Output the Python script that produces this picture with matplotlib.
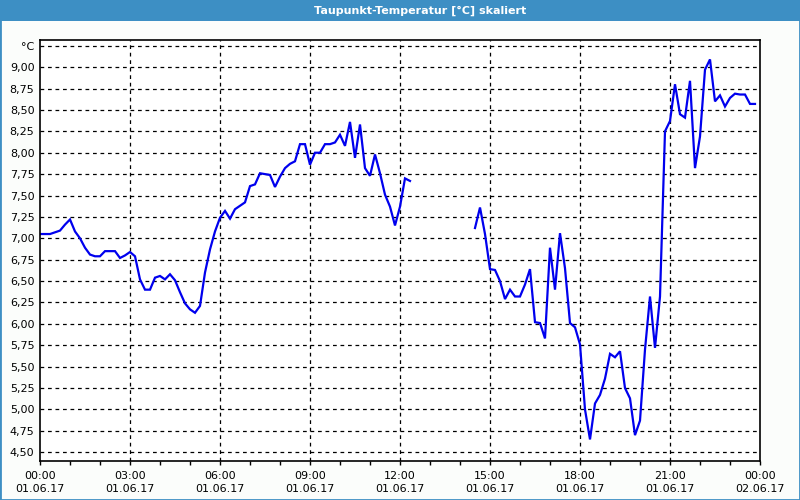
import matplotlib
matplotlib.use("Agg")
import matplotlib.pyplot as plt
from matplotlib.patches import Rectangle
from matplotlib.ticker import FixedLocator, NullFormatter
import numpy as np

# ---- data ----
title = "Taupunkt-Temperatur [°C] skaliert"
unit_label = "°C"

# segment 1: 00:00 .. 12:20 (10-minute readings)
seg1_times = ["00:00","00:10","00:20","00:30","00:40","00:50",
              "01:00","01:10","01:20","01:30","01:40","01:50",
              "02:00","02:10","02:20","02:30","02:40","02:50",
              "03:00","03:10","03:20","03:30","03:40","03:50",
              "04:00","04:10","04:20","04:30","04:40","04:50",
              "05:00","05:10","05:20","05:30","05:40","05:50",
              "06:00","06:10","06:20","06:30","06:40","06:50",
              "07:00","07:10","07:20","07:30","07:40","07:50",
              "08:00","08:10","08:20","08:30","08:40","08:50",
              "09:00","09:10","09:20","09:30","09:40","09:50",
              "10:00","10:10","10:20","10:30","10:40","10:50",
              "11:00","11:10","11:20","11:30","11:40","11:50",
              "12:00","12:10","12:20"]
seg1_values = [7.05, 7.05, 7.05, 7.07, 7.09, 7.16,
               7.22, 7.08, 7.00, 6.89, 6.81, 6.79,
               6.79, 6.85, 6.85, 6.85, 6.77, 6.80,
               6.84, 6.79, 6.52, 6.40, 6.40, 6.54,
               6.56, 6.52, 6.58, 6.51, 6.37, 6.24,
               6.17, 6.13, 6.21, 6.60, 6.87, 7.08,
               7.24, 7.32, 7.23, 7.34, 7.38, 7.42,
               7.61, 7.63, 7.76, 7.75, 7.74, 7.60,
               7.72, 7.82, 7.87, 7.90, 8.10, 8.10,
               7.86, 8.00, 8.00, 8.10, 8.10, 8.12,
               8.21, 8.08, 8.36, 7.94, 8.33, 7.82,
               7.73, 7.98, 7.76, 7.51, 7.37, 7.15,
               7.37, 7.70, 7.67]

# segment 2: 14:30 .. 23:50
seg2_times = ["14:30","14:40","14:50",
              "15:00","15:10","15:20","15:30","15:40","15:50",
              "16:00","16:10","16:20","16:30","16:40","16:50",
              "17:00","17:10","17:20","17:30","17:40","17:50",
              "18:00","18:10","18:20","18:30","18:40","18:50",
              "19:00","19:10","19:20","19:30","19:40","19:50",
              "20:00","20:10","20:20","20:30","20:40","20:50",
              "21:00","21:10","21:20","21:30","21:40","21:50",
              "22:00","22:10","22:20","22:30","22:40","22:50",
              "23:00","23:10","23:20","23:30","23:40","23:50"]
seg2_values = [7.12, 7.36, 7.05,
               6.64, 6.63, 6.50, 6.29, 6.40, 6.32,
               6.32, 6.46, 6.64, 6.02, 6.01, 5.83,
               6.89, 6.40, 7.06, 6.65, 6.01, 5.96,
               5.76, 5.00, 4.65, 5.07, 5.17, 5.36,
               5.65, 5.61, 5.68, 5.25, 5.13, 4.70,
               4.87, 5.70, 6.32, 5.72, 6.32, 8.25,
               8.37, 8.80, 8.45, 8.41, 8.84, 7.82,
               8.19, 8.97, 9.09, 8.60, 8.67, 8.54,
               8.64, 8.69, 8.68, 8.68, 8.57, 8.57]

x_tick_times = ["00:00", "03:00", "06:00", "09:00", "12:00", "15:00", "18:00", "21:00", "00:00"]
x_tick_dates = ["01.06.17"] * 8 + ["02.06.17"]
y_ticks = [4.50, 4.75, 5.00, 5.25, 5.50, 5.75, 6.00, 6.25, 6.50, 6.75,
           7.00, 7.25, 7.50, 7.75, 8.00, 8.25, 8.50, 8.75, 9.00, 9.25]


def to_hours(t):
    h, m = t.split(":")
    return int(h) + int(m) / 60.0


plt.rcParams['font.family'] = ['DejaVu Sans']
fig = plt.figure(figsize=(8, 5), dpi=100)
fig.patch.set_facecolor("#fbfdfb")

# title bar and border
bar_color = "#3d8fc4"
fig.patches.append(Rectangle((0, 1 - 20.5 / 500), 1, 20.5 / 500, transform=fig.transFigure,
                             facecolor=bar_color, edgecolor="none", zorder=0))
fig.patches.append(Rectangle((0, 0), 1, 1, transform=fig.transFigure,
                             facecolor="none", edgecolor=bar_color, linewidth=2, zorder=0))
fig.text(0.525, 1 - 10.5 / 500, title, color="white", fontsize=8, fontweight="bold",
         ha="center", va="center")

ax = fig.add_axes([40 / 800, 1 - 461 / 500, 720 / 800, 421 / 500])
ax.set_facecolor("white")

x1 = [to_hours(t) for t in seg1_times]
x2 = [to_hours(t) for t in seg2_times]
ax.plot(x1, seg1_values, color="#0000ee", linewidth=1.6, solid_joinstyle="miter")
ax.plot(x2, seg2_values, color="#0000ee", linewidth=1.6, solid_joinstyle="miter")

ax.set_xlim(0, 24)
ax.set_ylim(4.398, 9.317)

# y ticks
ax.yaxis.set_major_locator(FixedLocator(y_ticks))
ylabels = [f"{v:.2f}".replace(".", ",") for v in y_ticks]
ylabels[-1] = unit_label
ax.set_yticklabels(ylabels)
ax.tick_params(axis="y", length=0, pad=4, labelsize=8, colors="#000000")

# x ticks
xt = [0, 3, 6, 9, 12, 15, 18, 21, 24]
ax.set_xticks(xt)
ax.set_xticklabels([f"{a}\n{b}" for a, b in zip(x_tick_times, x_tick_dates)],
                   linespacing=1.45)
ax.set_xticks(list(range(0, 25)), minor=True)
ax.xaxis.set_minor_formatter(NullFormatter())
ax.tick_params(axis="x", which="both", direction="out", length=3, width=1,
               pad=4, labelsize=8)

# grid
for v in y_ticks:
    ax.axhline(v, color="black", linewidth=0.9, linestyle=(0, (3, 3)), zorder=1)
for h in xt[1:-1]:
    ax.axvline(h, color="black", linewidth=0.9, linestyle=(0, (3, 3)), zorder=1)

for s in ax.spines.values():
    s.set_color("black")
    s.set_linewidth(1.2)

fig.savefig("out.png", dpi=100, facecolor=fig.get_facecolor())
